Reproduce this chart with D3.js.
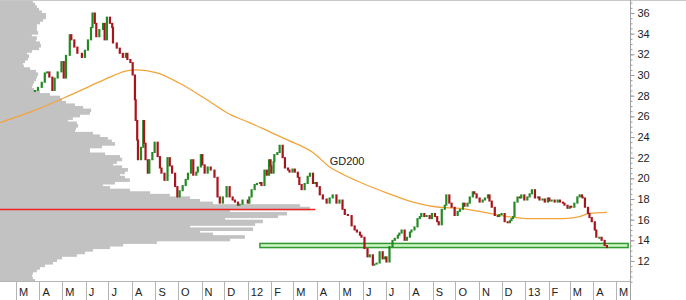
<!DOCTYPE html>
<html>
<head>
<meta charset="utf-8">
<script src="https://cdn.jsdelivr.net/npm/d3@7"></script>
<style>
  body { margin: 0; background: #fff; }
  svg { display: block; font-family: "Liberation Sans", Arial, sans-serif; }
</style>
</head>
<body>
<svg id="chart" width="686" height="300"></svg>
<script>
"use strict";

// daily closes (open of each candle = previous close)
const priceDates = [
  "2011-03-26","2011-03-30","2011-04-04","2011-04-08","2011-04-11","2011-04-14","2011-04-18","2011-04-21","2011-04-25","2011-04-30",
  "2011-05-03","2011-05-06","2011-05-11","2011-05-13","2011-05-17","2011-05-21","2011-05-27","2011-05-31","2011-06-04","2011-06-08",
  "2011-06-10","2011-06-13","2011-06-15","2011-06-19","2011-06-24","2011-06-26","2011-06-29","2011-07-03","2011-07-06","2011-07-07",
  "2011-07-12","2011-07-16","2011-07-20","2011-07-24","2011-07-26","2011-07-30","2011-08-02","2011-08-05","2011-08-06","2011-08-08",
  "2011-08-09","2011-08-13","2011-08-16","2011-08-17","2011-08-19","2011-08-22","2011-08-24","2011-08-28","2011-08-31","2011-09-04",
  "2011-09-07","2011-09-09","2011-09-13","2011-09-17","2011-09-20","2011-09-23","2011-09-27","2011-09-30","2011-10-03","2011-10-07",
  "2011-10-11","2011-10-14","2011-10-18","2011-10-21","2011-10-25","2011-10-27","2011-10-31","2011-11-02","2011-11-05","2011-11-09",
  "2011-11-13","2011-11-18","2011-11-22","2011-11-25","2011-11-29","2011-12-04","2011-12-08","2011-12-12","2011-12-15","2011-12-19",
  "2011-12-21","2011-12-25",
  "2012-01-01","2012-01-03","2012-01-06","2012-01-10","2012-01-13","2012-01-17","2012-01-19","2012-01-23","2012-01-26","2012-01-29",
  "2012-01-31","2012-02-01","2012-02-04","2012-02-05","2012-02-09","2012-02-12","2012-02-16","2012-02-19","2012-02-23","2012-02-25",
  "2012-02-29","2012-03-03","2012-03-07","2012-03-09","2012-03-12","2012-03-16","2012-03-20","2012-03-23","2012-03-27","2012-03-30",
  "2012-04-01","2012-04-05","2012-04-09","2012-04-14","2012-04-18","2012-04-22","2012-04-27","2012-05-01","2012-05-05","2012-05-08",
  "2012-05-12","2012-05-17","2012-05-21","2012-05-24","2012-05-28","2012-05-30","2012-06-03","2012-06-07","2012-06-10","2012-06-14",
  "2012-06-16","2012-06-19","2012-06-23","2012-06-27","2012-06-30","2012-07-02","2012-07-06","2012-07-10","2012-07-13","2012-07-17",
  "2012-07-19","2012-07-22","2012-07-26","2012-07-29","2012-08-02","2012-08-04","2012-08-08","2012-08-12","2012-08-15","2012-08-17",
  "2012-08-21","2012-08-24","2012-08-28","2012-08-31","2012-09-04","2012-09-07","2012-09-09","2012-09-13","2012-09-17","2012-09-19",
  "2012-09-23","2012-09-26","2012-09-30","2012-10-04","2012-10-07","2012-10-11","2012-10-13","2012-10-17","2012-10-20","2012-10-24",
  "2012-10-26","2012-10-29","2012-11-02","2012-11-06","2012-11-09","2012-11-13","2012-11-15","2012-11-18","2012-11-22","2012-11-26",
  "2012-11-28","2012-12-01","2012-12-05","2012-12-09","2012-12-12","2012-12-14","2012-12-16","2012-12-18","2012-12-22","2012-12-25",
  "2012-12-27","2012-12-31",
  "2013-01-04","2013-01-07","2013-01-10","2013-01-14","2013-01-18","2013-01-20","2013-01-24","2013-01-27","2013-01-31","2013-02-02",
  "2013-02-05","2013-02-09","2013-02-13","2013-02-16","2013-02-20","2013-02-22","2013-02-26","2013-03-01","2013-03-03","2013-03-07",
  "2013-03-11","2013-03-14","2013-03-17","2013-03-18","2013-03-21","2013-03-25","2013-03-27","2013-03-30","2013-04-03","2013-04-05",
  "2013-04-09","2013-04-12","2013-04-16","2013-04-19"
];
const priceCloses = [
  28.5,28.8,29.3,30.2,30.3,29.8,28.5,29.7,30.3,31.3,
  29.7,31.9,33.9,33.4,32.7,32.1,31.7,32.4,33.4,34.6,
  36.0,35.0,33.7,34.4,35.0,33.4,35.6,35.0,34.6,33.1,
  32.6,32.1,31.7,32.1,31.5,31.2,30.0,27.6,25.6,23.7,
  21.8,23.0,25.6,23.4,21.8,20.5,21.8,22.5,23.5,22.1,
  21.0,20.5,19.8,22.0,21.2,20.5,19.2,18.2,18.8,19.3,
  19.9,20.5,21.8,20.3,20.6,21.1,22.3,21.3,20.5,21.1,
  20.8,20.1,18.2,17.6,18.2,19.2,18.2,17.9,17.7,17.4,
  17.5,17.9,
  17.6,18.2,18.9,19.4,19.5,19.6,19.3,20.8,20.3,21.8,
  21.2,20.5,21.6,22.3,22.5,23.2,22.0,21.0,20.8,20.6,
  20.9,20.6,20.1,19.4,18.9,19.5,20.2,20.5,19.5,19.6,
  19.2,18.4,18.0,17.6,18.1,18.4,17.6,17.9,17.0,16.5,
  16.4,15.4,15.0,14.8,14.5,14.3,13.2,12.4,12.6,11.6,
  11.7,11.8,12.9,12.2,12.4,11.9,13.4,14.0,14.2,14.5,
  14.7,15.0,14.0,14.3,14.8,15.0,15.3,16.1,16.3,16.6,
  16.3,16.4,16.1,16.6,16.3,15.8,15.5,17.0,17.4,18.4,
  17.6,17.2,16.4,16.8,17.0,17.6,17.3,17.6,18.2,18.7,
  18.5,18.1,17.7,17.9,18.1,18.4,17.8,17.2,16.4,16.3,
  16.5,16.6,15.8,15.7,15.9,16.1,16.3,17.7,18.2,18.1,
  18.4,17.9,
  18.2,18.5,18.9,18.1,18.2,17.9,18.0,17.7,18.1,17.8,
  17.9,17.7,17.9,17.7,17.6,17.4,17.1,17.3,17.2,17.6,
  18.2,18.4,18.2,18.1,17.2,16.6,16.2,15.8,15.0,14.3,
  14.3,14.0,13.5,13.3
];

// 200-day moving average
const gdDates = [
  "2011-02-08","2011-03-23","2011-05-07","2011-06-06","2011-07-03","2011-07-25","2011-08-07","2011-09-03",
  "2011-10-03","2011-11-08","2011-12-08","2012-01-03","2012-01-30","2012-02-23","2012-03-27","2012-04-18",
  "2012-05-08","2012-06-01","2012-07-02","2012-08-06","2012-09-10","2012-10-07","2012-11-02","2012-12-09",
  "2013-01-07","2013-02-20","2013-03-14","2013-03-27","2013-04-19"
];
const gdValues = [
  25.4,26.5,27.9,28.9,29.8,30.4,30.5,30.2,
  29.2,27.6,26.2,25.4,24.5,23.7,22.5,21.1,
  20.3,19.5,18.6,17.7,17.2,17.1,16.8,16.3,
  16.1,16.1,16.3,16.6,16.7
];

// volume by price, 0.25 bins from 37.25 downwards
const profileTop = 37.25;
const profileBin = 0.25;
const profileVolume = [
  10.6,11.3,11.9,12.6,13.5,14.8,14.8,13.9,12.9,11.9,
  11.9,11.9,12.3,10.3,11.9,11.6,12.9,13.2,12.6,10.3,
  8.7,9.4,9.0,8.1,7.4,7.7,9.7,11.6,12.3,11.9,
  11.6,11.0,10.6,10.3,11.0,12.9,16.1,19.4,20.0,21.3,
  24.2,26.8,29.4,29.0,25.8,23.5,21.9,24.8,25.2,24.5,
  24.2,30.0,32.3,34.8,36.1,37.1,32.9,29.0,29.0,33.9,
  38.7,39.4,37.7,36.5,39.4,41.3,40.3,38.7,40.3,41.9,
  37.1,33.2,35.5,41.9,48.4,54.8,61.3,64.5,68.7,96.8,
  100,74.2,92.6,89.7,72.6,84.8,82.3,61.3,81.6,64.5,
  68.7,79.0,74.2,50.6,39.7,35.5,30.0,27.4,24.8,20.0,
  18.4,17.1,14.5,12.9,11.9,10.6,10.3,10.6,11.3
];

// support line and support zone
const redLinePrice = 17.0;
const redLineEnd = "2012-03-30";
const zoneLow = 13.3, zoneHigh = 13.7;
const zoneStart = "2012-01-17", zoneEnd = "2013-05-17";

const yTicks = [12, 14, 16, 18, 20, 22, 24, 26, 28, 30, 32, 34, 36];
const monthLabels = ["M","A","M","J","J","A","S","O","N","D","12","F","M","A","M","J","J","A","S","O","N","D","13","F","M","A","M"];

const parse = d3.timeParse("%Y-%m-%d");
const svg = d3.select("#chart");
const plotRight = 630, plotBottom = 281;

const x = d3.scaleTime()
  .domain([new Date(2011, 2, 1), new Date(2013, 4, 1)])
  .range([16, 616]);
const y = d3.scaleLinear().domain([12, 36]).range([261, 13]);
const vx = d3.scaleLinear().domain([0, 100]).range([0, 310]);

svg.append("clipPath").attr("id", "plotClip")
  .append("rect").attr("x", 0).attr("y", 0).attr("width", plotRight).attr("height", plotBottom);

const g = svg.append("g").attr("clip-path", "url(#plotClip)");

// volume profile - bins overlap by a pixel so no seams show
g.append("g").selectAll("rect")
  .data(profileVolume)
  .enter().append("rect")
  .attr("x", 0)
  .attr("y", (d, i) => y(profileTop - i * profileBin))
  .attr("width", (d) => vx(d))
  .attr("height", (d, i) => y(profileTop - (i + 1) * profileBin) - y(profileTop - i * profileBin) + 1)
  .attr("fill", "#c2c2c2");

// support zone
g.append("rect")
  .attr("x", x(parse(zoneStart)))
  .attr("y", y(zoneHigh))
  .attr("width", x(parse(zoneEnd)) - x(parse(zoneStart)))
  .attr("height", y(zoneLow) - y(zoneHigh))
  .attr("fill", "#ccf2c4")
  .attr("stroke", "#2f9a2f")
  .attr("stroke-width", 1.5);

// red line (snapped to a pixel row so it stays bright)
const redY = Math.round(y(redLinePrice)) + 0.5;
g.append("line")
  .attr("x1", 0).attr("x2", x(parse(redLineEnd)))
  .attr("y1", redY).attr("y2", redY)
  .attr("stroke", "#ee2222")
  .attr("stroke-width", 1.5);

// GD200
const gd = gdDates.map((d, i) => ({ date: parse(d), value: gdValues[i] }));
g.append("path")
  .datum(gd)
  .attr("fill", "none")
  .attr("stroke", "#f2a43c")
  .attr("stroke-width", 1.3)
  .attr("d", d3.line().curve(d3.curveMonotoneX).x((d) => x(d.date)).y((d) => y(d.value)));

g.append("text")
  .attr("x", x(parse("2012-04-18")))
  .attr("y", y(21.3))
  .attr("font-size", 11)
  .attr("fill", "#222")
  .text("GD200");

// candles
const candles = priceCloses.map((c, i) => ({
  date: parse(priceDates[i]),
  open: i ? priceCloses[i - 1] : c,
  close: c,
}));
g.append("g").selectAll("rect")
  .data(candles)
  .enter().append("rect")
  .attr("x", (d) => x(d.date) - 1.1)
  .attr("width", 2.2)
  .attr("y", (d) => y(Math.max(d.open, d.close)) - 0.5)
  .attr("height", (d) => Math.max(2, Math.abs(y(d.open) - y(d.close)) + 1))
  .attr("fill", (d) => (d.close >= d.open ? "#248a24" : "#a8141c"));

// frame
svg.append("line").attr("x1", 0).attr("x2", 686).attr("y1", 0.5).attr("y2", 0.5).attr("stroke", "#c8c8c8");
svg.append("line").attr("x1", 0).attr("x2", plotRight).attr("y1", plotBottom + 0.5).attr("y2", plotBottom + 0.5).attr("stroke", "#b4b4b4");

// y axis on the right
const yAxisMinor = d3.axisRight(y).tickValues(d3.range(10, 37.5, 0.5)).tickSize(2).tickFormat("");
const yAxis = d3.axisRight(y).tickValues(yTicks).tickSize(4).tickPadding(3);
const ya = svg.append("g").attr("transform", `translate(${plotRight + 0.5},0)`);
ya.call(yAxisMinor);
ya.select(".domain").remove();
const yb = svg.append("g").attr("transform", `translate(${plotRight + 0.5},0)`).call(yAxis);
yb.select(".domain").remove();
svg.selectAll(".tick line").attr("stroke", "#9a9a9a");
yb.selectAll("text").attr("font-size", 11).attr("font-family", "Liberation Sans, Arial, sans-serif").attr("fill", "#222");
svg.append("line").attr("x1", plotRight + 0.5).attr("x2", plotRight + 0.5).attr("y1", 0).attr("y2", 300).attr("stroke", "#a0a0a0");

// month strip
const months = d3.timeMonth.range(new Date(2011, 2, 1), new Date(2013, 5, 1));
const xs = svg.append("g");
xs.selectAll("line")
  .data(months)
  .enter().append("line")
  .attr("x1", (d) => Math.round(x(d)) + 0.5)
  .attr("x2", (d) => Math.round(x(d)) + 0.5)
  .attr("y1", plotBottom)
  .attr("y2", 300)
  .attr("stroke", "#b4b4b4");
xs.selectAll("text")
  .data(months)
  .enter().append("text")
  .attr("x", (d) => x(d) + 3)
  .attr("y", 296)
  .attr("font-size", 11)
  .attr("fill", "#222")
  .text((d, i) => monthLabels[i]);
</script>
</body>
</html>
